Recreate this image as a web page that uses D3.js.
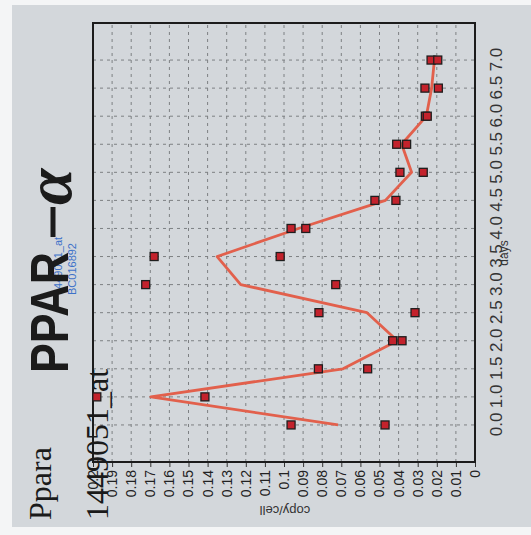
<!DOCTYPE html>
<html>
<head>
<meta charset="utf-8">
<script src="https://cdn.jsdelivr.net/npm/d3@7"></script>
<style>
  body { margin: 0; background: #fff; }
  svg { display: block; }
</style>
</head>
<body>
<div id="chart"></div>
<script>
var days = ["0.0", "1.0", "1.5", "2.0", "2.5", "3.0", "3.5", "4.0", "4.5", "5.0", "5.5", "6.0", "6.5", "7.0"];
var rep1 = [0.0963, 0.198, 0.082, 0.0431, 0.0817, 0.1724, 0.168, 0.0963, 0.0524, 0.0393, 0.041, 0.026, 0.0262, 0.023];
var rep2 = [0.0471, 0.1414, 0.0562, 0.0382, 0.0314, 0.0729, 0.102, 0.0886, 0.0414, 0.0271, 0.0358, 0.025, 0.0192, 0.0195];
var valueTicks = [0, 0.01, 0.02, 0.03, 0.04, 0.05, 0.06, 0.07, 0.08, 0.09, 0.1,
                  0.11, 0.12, 0.13, 0.14, 0.15, 0.16, 0.17, 0.18, 0.19, 0.2];

var W = 531, H = 535;

var svg = d3.select("#chart").append("svg")
    .attr("width", W)
    .attr("height", H);

// paper
svg.append("rect").attr("width", W).attr("height", H).attr("fill", "#f4f5f6");
svg.append("rect").attr("x", 12).attr("y", 5).attr("width", W - 12).attr("height", H - 13)
    .attr("fill", "#d3d7db");

// the whole chart is drawn upright, then turned a quarter left like the scan
var g = svg.append("g").attr("transform", "translate(0," + H + ") rotate(-90)");

var pLeft = 73, pRight = 512, pTop = 93, pBottom = 475;

var x = d3.scalePoint()
    .domain(days)
    .range([pLeft, pRight])
    .padding(1.32);

var y = d3.scaleLinear()
    .domain([0, 0.2])
    .range([pBottom, pTop]);

// grid
g.append("g").selectAll("line")
    .data(valueTicks.filter(function(v){ return v > 0 && v < 0.2; }))
    .enter().append("line")
    .attr("x1", pLeft).attr("x2", pRight)
    .attr("y1", function(d){ return y(d); })
    .attr("y2", function(d){ return y(d); })
    .attr("stroke", "#7d8083")
    .attr("stroke-width", 1)
    .attr("stroke-dasharray", "3,4");

g.append("g").selectAll("line")
    .data(days)
    .enter().append("line")
    .attr("x1", function(d){ return x(d); })
    .attr("x2", function(d){ return x(d); })
    .attr("y1", pTop).attr("y2", pBottom)
    .attr("stroke", "#7d8083")
    .attr("stroke-width", 1)
    .attr("stroke-dasharray", "3,4");

// value axis
var yAxis = g.append("g")
    .attr("transform", "translate(" + pLeft + ",0)")
    .call(d3.axisLeft(y)
        .tickValues(valueTicks)
        .tickSize(5)
        .tickPadding(3)
        .tickFormat(function(d){ return String(+d.toFixed(2)); }));
yAxis.select(".domain").remove();
yAxis.selectAll("line").attr("stroke", "#333");
yAxis.selectAll("text")
    .attr("font-family", "Liberation Sans, Arial, sans-serif")
    .attr("font-size", 14)
    .attr("fill", "#222");

// days axis
var xAxis = g.append("g")
    .attr("transform", "translate(0," + pBottom + ")")
    .call(d3.axisBottom(x).tickSize(0).tickPadding(15));
xAxis.select(".domain").remove();
xAxis.selectAll("text")
    .attr("font-family", "Liberation Sans, Arial, sans-serif")
    .attr("font-size", 17)
    .attr("fill", "#333");

// frame
g.append("rect")
    .attr("x", pLeft).attr("y", pTop)
    .attr("width", pRight - pLeft).attr("height", pBottom - pTop)
    .attr("fill", "none")
    .attr("stroke", "#1c1c1c")
    .attr("stroke-width", 2);

// mean line
var means = days.map(function(d, i){ return d3.mean([rep1[i], rep2[i]]); });
var line = d3.line()
    .x(function(d, i){ return x(days[i]); })
    .y(function(d){ return y(d); });

g.append("path")
    .datum(means)
    .attr("d", line)
    .attr("fill", "none")
    .attr("stroke", "#e2604c")
    .attr("stroke-width", 2.8)
    .attr("stroke-linejoin", "round");

// replicate points
var pts = [];
days.forEach(function(d, i){
  pts.push({day: d, v: rep1[i]});
  pts.push({day: d, v: rep2[i]});
});
g.append("g").selectAll("rect")
    .data(pts)
    .enter().append("rect")
    .attr("x", function(d){ return x(d.day) - 4; })
    .attr("y", function(d){ return y(d.v) - 4; })
    .attr("width", 8).attr("height", 8)
    .attr("fill", "#c3222c")
    .attr("stroke", "#1e1e1e")
    .attr("stroke-width", 1.3);

// axis titles
g.append("text")
    .attr("transform", "translate(24," + ((pTop + pBottom) / 2 + 1) + ") rotate(-90)")
    .attr("text-anchor", "middle")
    .attr("dy", "0.35em")
    .attr("font-family", "Liberation Sans, Arial, sans-serif")
    .attr("font-size", 13)
    .attr("fill", "#333")
    .text("copy/cell");

g.append("text")
    .attr("x", 282).attr("y", 508)
    .attr("text-anchor", "middle")
    .attr("font-family", "Liberation Sans, Arial, sans-serif")
    .attr("font-size", 12)
    .attr("fill", "#333")
    .text("days");

// headings
g.append("text")
    .attr("x", 15).attr("y", 51)
    .attr("font-family", "Liberation Serif, Times New Roman, serif")
    .attr("font-size", 32)
    .attr("fill", "#1a1a1a")
    .text("Ppara");

g.append("text")
    .attr("x", 15).attr("y", 108)
    .attr("font-family", "Liberation Serif, Times New Roman, serif")
    .attr("font-size", 32)
    .attr("fill", "#1a1a1a")
    .text("1449051_at");

g.append("text")
    .attr("x", 240).attr("y", 62)
    .attr("font-family", "Liberation Sans, Arial, sans-serif")
    .attr("font-size", 11)
    .attr("fill", "#3d72c9")
    .text("1449051_at");
g.append("text")
    .attr("x", 240).attr("y", 76)
    .attr("font-family", "Liberation Sans, Arial, sans-serif")
    .attr("font-size", 11)
    .attr("fill", "#3d72c9")
    .text("BC016892");

g.append("text")
    .attr("x", 162).attr("y", 68)
    .attr("font-family", "Liberation Sans, Arial, sans-serif")
    .attr("font-weight", "bold")
    .attr("font-size", 54)
    .attr("textLength", 121)
    .attr("lengthAdjust", "spacingAndGlyphs")
    .attr("fill", "#1b1b1b")
    .text("PPAR");

g.append("line")
    .attr("x1", 298).attr("x2", 328)
    .attr("y1", 53).attr("y2", 53)
    .attr("stroke", "#1b1b1b")
    .attr("stroke-width", 5);

g.append("text")
    .attr("x", 330).attr("y", 71)
    .attr("font-family", "Liberation Serif, Times New Roman, serif")
    .attr("font-style", "italic")
    .attr("font-weight", "bold")
    .attr("font-size", 66)
    .attr("fill", "#1b1b1b")
    .text("α");
</script>
</body>
</html>
